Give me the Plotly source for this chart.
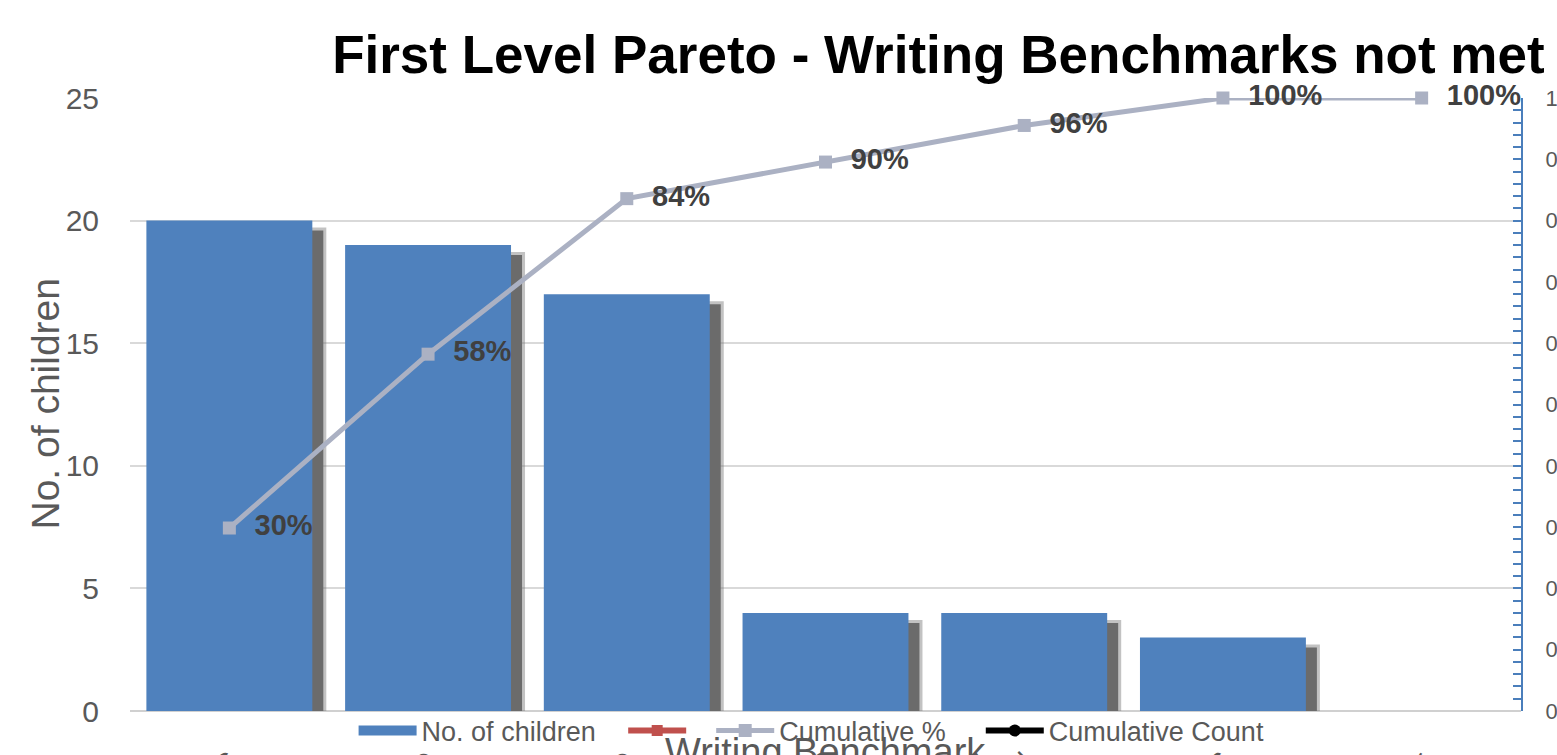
import plotly.graph_objects as go

categories = ["Composition C", "Organisation O", "Quality Q", "Punctuation P",
              "Handwriting N", "Spelling S", "Other"]
children = [20, 19, 17, 4, 4, 3, 0]
cumulative_pct = [0.2985, 0.5821, 0.8358, 0.8955, 0.9552, 1.0, 1.0]
left_ticks = [0, 5, 10, 15, 20, 25]
right_tickvals = [0, 0.1, 0.2, 0.3, 0.4, 0.5, 0.6, 0.7, 0.8, 0.9, 1.0]
right_ticktext = ["0", "0", "0", "0", "0", "0", "0", "0", "0", "0", "1"]

BAR = "#4f81bd"
LINE = "#abb1c3"
GRAY_TXT = "#595959"
NB = "\u00a0"
W, H = 1557, 755
ML, MR, MT, MB = 130, 36, 98, 44
plot_w = W - ML - MR
plot_h = H - MT - MB
cat_px = plot_w / len(categories)
bar_w = 0.835


def shadow(dx_px, dy_px):
    dy = dy_px / plot_h * 25
    return [max(v - dy, 0) if v > 0 else None for v in children], dx_px / cat_px


fig = go.Figure()
# legend entry for bars (wide rectangle symbol)
fig.add_trace(go.Scatter(
    x=categories, y=[None] * len(categories), name="No. of children" + NB * 3,
    mode="lines", line=dict(color=BAR, width=18)))
sy1, sdx1 = shadow(14, 7)
fig.add_trace(go.Bar(
    x=categories, y=sy1, width=bar_w, offset=-bar_w / 2 + sdx1,
    marker=dict(color="rgba(120,120,120,0.45)", line=dict(width=0)),
    showlegend=False, hoverinfo="skip"))
sy2, sdx2 = shadow(11, 10)
fig.add_trace(go.Bar(
    x=categories, y=sy2, width=bar_w, offset=-bar_w / 2 + sdx2,
    marker=dict(color="#6b6b6b", line=dict(width=0)),
    showlegend=False, hoverinfo="skip"))
fig.add_trace(go.Bar(
    x=categories, y=children, width=bar_w, offset=-bar_w / 2,
    name="No. of children", showlegend=False,
    marker=dict(color=BAR, line=dict(width=0))))
fig.add_trace(go.Scatter(
    x=categories, y=[None] * len(categories), name=NB * 2, mode="lines+markers",
    line=dict(color="#c0504d", width=6), marker=dict(symbol="square", size=11)))
fig.add_trace(go.Scatter(
    x=categories, y=cumulative_pct, yaxis="y2", name="Cumulative %" + NB * 4,
    mode="lines+markers+text", line=dict(color=LINE, width=5),
    marker=dict(symbol="square", size=13, color=LINE),
    texttemplate="  %{y:.0%}", textposition="middle right",
    textfont=dict(family="Liberation Sans, Arial", size=29, color="#404040", weight="bold"),
    cliponaxis=False))
fig.add_trace(go.Scatter(
    x=categories, y=[None] * len(categories), name="Cumulative Count",
    mode="lines+markers", line=dict(color="black", width=6),
    marker=dict(symbol="circle", size=12, color="black")))

fig.update_layout(
    width=W, height=H,
    margin=dict(l=ML, r=MR, t=MT, b=MB, autoexpand=False),
    barmode="overlay",
    plot_bgcolor="white", paper_bgcolor="white",
    font=dict(family="Liberation Sans, Arial", color=GRAY_TXT),
    title=dict(text="<b>First Level Pareto - Writing Benchmarks not met</b>",
               x=0.992, xanchor="right", y=1 - 54 / H, yanchor="middle",
               font=dict(size=53, color="black", family="Liberation Sans, Arial")),
    xaxis=dict(type="category", categoryorder="array", categoryarray=categories,
               range=[-0.5, len(categories) - 0.5],
               showgrid=False, showline=False, ticks="", tickangle=-45,
               ticklabelstandoff=28, automargin=False,
               tickfont=dict(size=26, color=GRAY_TXT)),
    yaxis=dict(range=[0, 25], tickvals=left_ticks, showgrid=True,
               gridcolor="#d9d9d9", gridwidth=1.5, zeroline=True,
               zerolinecolor="#d0d0d0", zerolinewidth=2,
               showline=False, ticks="", ticklabelstandoff=30,
               tickfont=dict(size=30, color=GRAY_TXT), automargin=False),
    yaxis2=dict(range=[0, 1], overlaying="y", side="right", anchor="x",
                tickvals=right_tickvals, ticktext=right_ticktext,
                showgrid=False, zeroline=False, showline=True,
                linecolor="#4a7ebb", linewidth=2,
                ticks="inside", ticklen=8, tickcolor="#4a7ebb", tickwidth=1.5,
                minor=dict(dtick=0.02, ticks="inside", ticklen=8,
                           tickcolor="#4a7ebb", tickwidth=1.5, showgrid=False),
                ticklabelstandoff=18, automargin=False,
                tickfont=dict(size=22, color=GRAY_TXT)),
    legend=dict(orientation="h", x=0.49, xanchor="center", y=-20 / plot_h,
                yanchor="middle", bgcolor="rgba(0,0,0,0)",
                font=dict(size=27, color=GRAY_TXT), itemwidth=58,
                traceorder="normal"),
    showlegend=True,
)

fig.add_annotation(text="No. of children", xref="paper", yref="paper",
                   x=0, y=0.5, xanchor="center", yanchor="middle",
                   xshift=-(ML - 45), textangle=-90, showarrow=False,
                   font=dict(size=39, color=GRAY_TXT))
fig.add_annotation(text="Writing Benchmark", xref="paper", yref="paper",
                   x=0.5, y=0, yanchor="top", yshift=-18, showarrow=False,
                   font=dict(size=38, color=GRAY_TXT))

fig.write_html("out.html")
